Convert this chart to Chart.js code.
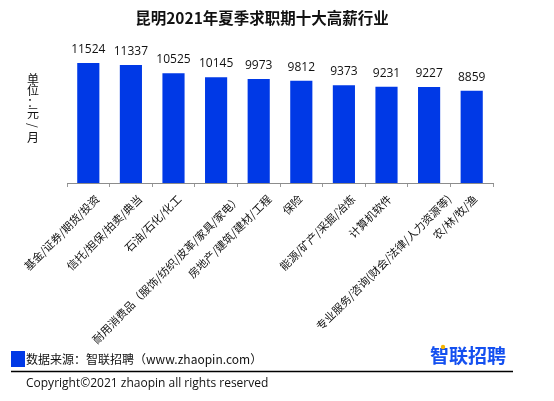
<!DOCTYPE html>
<html>
<head>
<meta charset="utf-8">
<script src="https://cdn.jsdelivr.net/npm/chart.js@4/dist/chart.umd.min.js"></script>
<style>
html,body{margin:0;padding:0;background:#fff;}
canvas{display:block;}
</style>
</head>
<body>
<canvas id="c" width="554" height="401"></canvas>
<script>
const categories = [
  "基金/证券/期货/投资",
  "信托/担保/拍卖/典当",
  "石油/石化/化工",
  "耐用消费品（服饰/纺织/皮革/家具/家电）",
  "房地产/建筑/建材/工程",
  "保险",
  "能源/矿产/采掘/冶炼",
  "计算机软件",
  "专业服务/咨询(财会/法律/人力资源等)",
  "农/林/牧/渔"
];
const salaries = [11524, 11337, 10525, 10145, 9973, 9812, 9373, 9231, 9227, 8859];
const yMin = 0;
const yMax = 12000;
const titleText = "昆明2021年夏季求职期十大高薪行业";
const unitChars = ["单", "位", "：", "元", "/", "月"];
const sourceText = "数据来源：智联招聘（www.zhaopin.com）";
const logoText = "智联招聘";
const copyrightText = "Copyright©2021 zhaopin all rights reserved";

const BLUE = "#0039E6";
const CJK = '"Noto Sans CJK SC", "Open Sans", sans-serif';
const LAT = '"Open Sans", "Noto Sans CJK SC", sans-serif';

const valueLabels = {
  id: "valueLabels",
  afterDatasetsDraw(chart) {
    const ctx = chart.ctx;
    const meta = chart.getDatasetMeta(0);
    ctx.save();
    ctx.font = "12px " + LAT;
    ctx.fillStyle = "#111";
    ctx.textAlign = "center";
    ctx.textBaseline = "alphabetic";
    meta.data.forEach((bar, i) => {
      ctx.fillText(String(salaries[i]), bar.x, bar.y - 10);
    });
    ctx.restore();
  }
};

const categoryLabels = {
  id: "categoryLabels",
  afterDraw(chart) {
    const ctx = chart.ctx;
    const xs = chart.scales.x;
    ctx.save();
    ctx.font = "11px " + CJK;
    ctx.fillStyle = "#111";
    ctx.textAlign = "right";
    ctx.textBaseline = "middle";
    categories.forEach((lab, i) => {
      const cx = xs.getPixelForTick(i);
      const w = ctx.measureText(lab).width;
      ctx.save();
      ctx.translate(cx - 4 + 0.13 * w, xs.top + 14);
      ctx.rotate(-Math.PI / 4);
      ctx.fillText(lab, 0, 0);
      ctx.restore();
    });
    ctx.restore();
  }
};

const decorations = {
  id: "decorations",
  afterDraw(chart) {
    const ctx = chart.ctx;
    ctx.save();
    // title
    ctx.font = "bold 15.5px " + CJK;
    ctx.fillStyle = "#111";
    ctx.textAlign = "center";
    ctx.textBaseline = "middle";
    ctx.fillText(titleText, 262, 18);
    // vertical unit label
    ctx.font = "12px " + CJK;
    ctx.fillStyle = "#111";
    unitChars.forEach((ch, i) => {
      const y = 79 + i * 11.6;
      if (ch === "/") {
        ctx.save();
        ctx.translate(33, y);
        ctx.rotate(Math.PI / 2);
        ctx.fillText(ch, 0, 0);
        ctx.restore();
      } else {
        ctx.fillText(ch, 33, y);
      }
    });
    // footer
    ctx.fillStyle = BLUE;
    ctx.fillRect(11, 351, 14, 16);
    ctx.fillStyle = "#111";
    ctx.textAlign = "left";
    ctx.font = "12px " + CJK;
    ctx.fillText(sourceText, 26, 359);
    // logo
    ctx.font = "bold 19px " + CJK;
    ctx.fillStyle = "#1450F0";
    ctx.fillText(logoText, 430, 356);
    ctx.fillStyle = "#F5B400";
    ctx.beginPath();
    ctx.arc(443, 347, 2.2, 0, Math.PI * 2);
    ctx.fill();
    // separator line
    ctx.strokeStyle = "#000";
    ctx.lineWidth = 1.5;
    ctx.beginPath();
    ctx.moveTo(11, 371.5);
    ctx.lineTo(513, 371.5);
    ctx.stroke();
    // copyright
    ctx.fillStyle = "#111";
    ctx.font = "12px " + LAT;
    ctx.fillText(copyrightText, 26, 384);
    ctx.restore();
  }
};

new Chart(document.getElementById("c"), {
  type: "bar",
  data: {
    labels: categories,
    datasets: [{
      data: salaries,
      backgroundColor: BLUE,
      borderWidth: 0,
      categoryPercentage: 1,
      barPercentage: 0.52
    }]
  },
  options: {
    responsive: false,
    animation: false,
    devicePixelRatio: 1,
    layout: { padding: { left: 67, right: 61, top: 58, bottom: 0 } },
    plugins: { legend: { display: false }, tooltip: { enabled: false }, title: { display: false } },
    scales: {
      x: {
        offset: true,
        grid: { display: true, drawOnChartArea: false, drawTicks: true, tickLength: 4, color: "#999", offset: true },
        border: { display: true, color: "#8c8c8c", width: 1 },
        ticks: { autoSkip: false, maxRotation: 45, minRotation: 45, padding: 7, color: "rgba(0,0,0,0)", font: { size: 11, family: CJK } },
        afterFit(scale) { scale.height = 218; }
      },
      y: { display: false, min: yMin, max: yMax }
    }
  },
  plugins: [valueLabels, categoryLabels, decorations]
});
</script>
</body>
</html>
